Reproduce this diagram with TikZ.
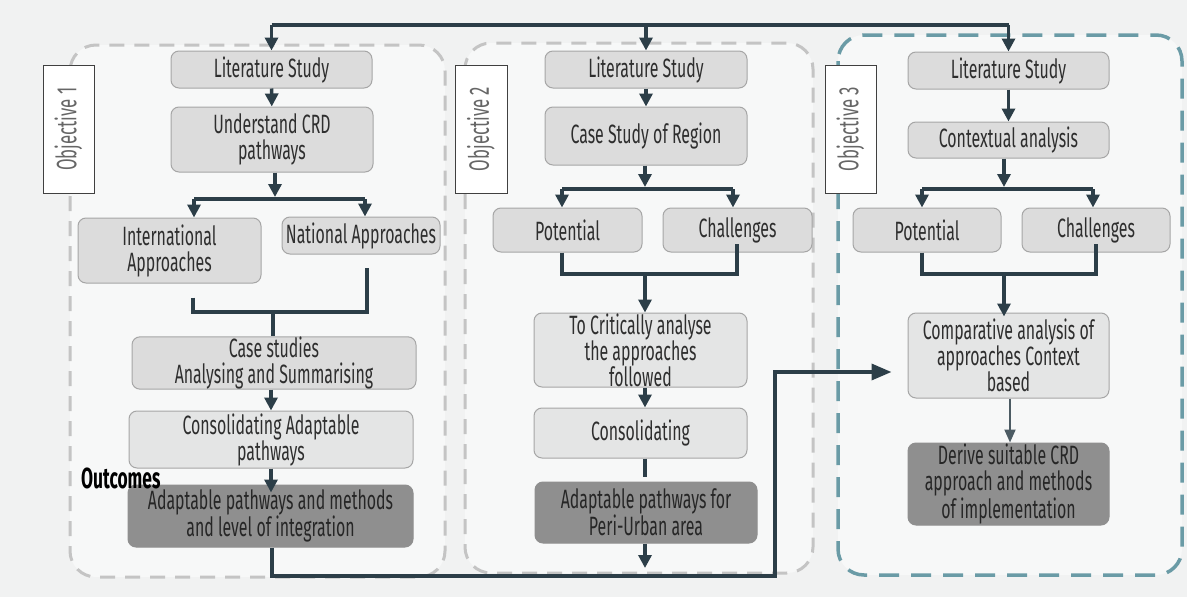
\documentclass[tikz,border=0pt]{standalone}
\usepackage{fontspec}
\setmainfont{Fira Sans}[FakeStretch=0.6]
\usetikzlibrary{arrows.meta}
\definecolor{bgcol}{HTML}{F1F2F2}
\definecolor{panel}{HTML}{F7F8F8}
\definecolor{conn}{HTML}{2C3E48}
\definecolor{boxfill}{HTML}{DCDCDC}
\definecolor{boxlight}{HTML}{E4E5E5}
\definecolor{boxdark}{HTML}{8F8F8F}
\definecolor{boxedge}{HTML}{A6A6A6}
\definecolor{txt}{HTML}{2E2E2E}
\definecolor{greydash}{HTML}{C4C4C4}
\definecolor{tealdash}{HTML}{6A9BA6}
\begin{document}
\begin{tikzpicture}[x=1pt,y=-1pt,
  box/.style={draw=boxedge, fill=boxfill, rounded corners=8pt, line width=1pt,
    text=txt, align=center, inner sep=0pt, font=\fontsize{26.5}{26}\selectfont},
  lightbox/.style={box, fill=boxlight},
  darkbox/.style={box, fill=boxdark, draw=boxdark, text=black!85},
  objbox/.style={draw=black!75, fill=white, line width=1pt, rotate=90,
    text=black!60, font=\fontsize{28}{28}\selectfont, inner sep=0pt},
  panelgrey/.style={draw=greydash, fill=panel, line width=3pt,
    dash pattern=on 15pt off 10pt, rounded corners=26pt},
  panelteal/.style={draw=tealdash, fill=panel, line width=3.5pt,
    dash pattern=on 20pt off 12pt, rounded corners=26pt},
  link/.style={draw=conn, line width=3.5pt},
  arr/.style={link, -{Triangle[width=13pt,length=13pt]}},
  thinarr/.style={draw=conn!85!white, line width=2pt, -{Triangle[width=11pt,length=13pt]}}
]
\useasboundingbox (0,0) rectangle (1187,597);
\fill[bgcol] (0,0) rectangle (1187,597);

% objective panels
\draw[panelgrey] (70,45) rectangle (445,577);
\draw[panelgrey] (465,43) rectangle (813,573);
\draw[panelteal] (838,35) rectangle (1182,575);

% objective labels
\node[objbox, minimum width=128pt, minimum height=51pt] (o1) at (68.5,129) {Objective 1};
\node[objbox, minimum width=128pt, minimum height=52pt] (o2) at (481,129) {Objective 2};
\node[objbox, minimum width=128pt, minimum height=51pt] (o3) at (850.5,129) {Objective 3};

% objective 1
\node[box, minimum width=201pt, minimum height=37pt] (lit1) at (271.5,69.5) {Literature Study};
\node[box, minimum width=202pt, minimum height=65pt] (und) at (272,139.5) {Understand CRD\\pathways};
\node[box, minimum width=183pt, minimum height=65pt] (intl) at (169.5,250.5) {International\\Approaches};
\node[box, minimum width=158pt, minimum height=37pt] (natl) at (361,235.5) {National Approaches};
\node[box, minimum width=284pt, minimum height=50pt] (case1) at (274,363) {Case studies\\Analysing and Summarising};
\node[lightbox, minimum width=284pt, minimum height=57pt] (cons1) at (271,439.5) {Consolidating Adaptable\\pathways};
\node[darkbox, minimum width=285pt, minimum height=62pt] (out1) at (270.5,516) {Adaptable pathways and methods\\and level of integration};
\node[anchor=west, inner sep=0pt, font=\fontsize{29}{29}\selectfont\bfseries] (outc) at (81,478) {Outcomes};

% objective 2
\node[box, minimum width=202pt, minimum height=37pt] (lit2) at (646,69.5) {Literature Study};
\node[box, minimum width=202pt, minimum height=58pt] (csr) at (646,136) {Case Study of Region};
\node[box, minimum width=149pt, minimum height=44pt] (pot2) at (567.5,230) {Potential};
\node[box, minimum width=149pt, minimum height=44pt] (chl2) at (737.5,230) {Challenges};
\node[lightbox, minimum width=213pt, minimum height=74pt] (crit) at (640.5,350) {To Critically analyse\\the approaches\\followed};
\node[lightbox, minimum width=213pt, minimum height=50pt] (cons2) at (640.5,433) {Consolidating};
\node[darkbox, minimum width=222pt, minimum height=61pt] (out2) at (646,512.5) {Adaptable pathways for\\Peri-Urban area};

% objective 3
\node[box, minimum width=201pt, minimum height=37pt] (lit3) at (1008.5,70.5) {Literature Study};
\node[box, minimum width=201pt, minimum height=36pt] (ctx) at (1008.5,140) {Contextual analysis};
\node[box, minimum width=148pt, minimum height=44pt] (pot3) at (927,230) {Potential};
\node[box, minimum width=148pt, minimum height=44pt] (chl3) at (1096,230) {Challenges};
\node[lightbox, minimum width=201pt, minimum height=85pt] (cmp) at (1008.5,355.5) {Comparative analysis of\\approaches Context\\based};
\node[darkbox, minimum width=201pt, minimum height=82pt] (der) at (1008.5,484) {Derive suitable CRD\\approach and methods\\of implementation};

% top feed line into each objective
\coordinate (t1) at (271.5,25);
\coordinate (t3) at (1008.5,25);
\draw[link] (t1) -- (t3);
\draw[arr] (t1) -- (lit1.north);
\draw[arr] (lit2.north |- t1) -- (lit2.north);
\draw[arr] (t3) -- (lit3.north);

% objective 1 flow
\draw[arr] (lit1) -- (und);
\coordinate (b1) at (275,199);
\draw[arr] (und.south -| b1) -- ([yshift=2pt]b1);
\draw[link] (194,199) -- (365,199);
\draw[arr] (194,199) -- (intl.north -| 194,0);
\draw[arr] (365,199) -- (natl.north -| 365,0);
\coordinate (m1) at (273,312);
\draw[link] ([yshift=-14pt]intl.south -| 193,0) -- (193,312) -- (367,312) -- ([yshift=-13pt]natl.south -| 367,0);
\draw[link] (m1) -- (case1.north -| m1);
\draw[arr] (case1.south -| 271,0) -- (cons1.north -| 271,0);
\draw[arr] (cons1.south -| 271,0) -- ([yshift=-8pt]out1.north -| 271,0);

% objective 2 flow
\draw[arr] (lit2) -- (csr);
\coordinate (b2) at (645,189);
\draw[arr] (csr.south -| b2) -- ([yshift=2pt]b2);
\draw[link] (562,189) -- (733,189);
\draw[arr] (562,189) -- (pot2.north -| 562,0);
\draw[arr] (733,189) -- (chl2.north -| 733,0);
\coordinate (m2) at (645,274);
\draw[link] (pot2.south -| 562,0) -- (562,274) -- (737,274) -- ([yshift=9pt]chl2.south -| 737,0);
\draw[arr] (m2) -- (crit.north -| m2);
\draw[arr] (crit.south -| m2) -- (cons2.north -| m2);
\coordinate (g2) at (645,477);
\draw[link] (cons2.south -| g2) -- (g2);
\coordinate (e2) at (645,568);
\draw[arr] (out2.south -| e2) -- (e2);

% objective 3 flow
\draw[arr] (lit3) -- (ctx);
\coordinate (b3) at (1004,189);
\draw[arr] (ctx.south -| b3) -- ([yshift=2pt]b3);
\draw[link] (922,189) -- (1093,189);
\draw[arr] (922,189) -- (pot3.north -| 922,0);
\draw[arr] (1093,189) -- (chl3.north -| 1093,0);
\coordinate (m3) at (1004,274);
\draw[link] (pot3.south -| 922,0) -- (922,274) -- (1096,274) -- ([yshift=9pt]chl3.south -| 1096,0);
\draw[arr] (m3) -- ([yshift=-4pt]cmp.north -| m3);
\draw[thinarr] (cmp.south -| 1010,0) -- (der.north -| 1010,0);

% outcome of objective 1 feeding objective 3
\coordinate (r1) at (272,576);
\coordinate (r2) at (775,576);
\coordinate (r3) at (775,372);
\draw[link, -{Triangle[width=16pt,length=20pt]}]
  (out1.south -| r1) -- (r1) -- (r2) -- (r3) -- ([xshift=-16pt]cmp.west |- r3);
\end{tikzpicture}
\end{document}
